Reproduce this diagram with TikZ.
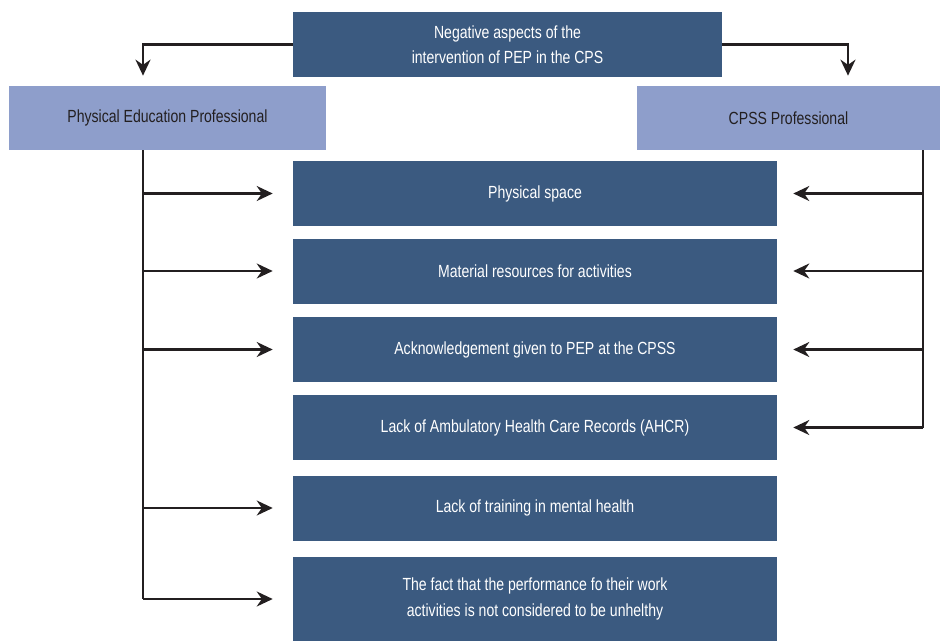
\documentclass[tikz,border=0pt]{standalone}
\usepackage{fontspec}
\setmainfont{Liberation Sans}[FakeStretch=0.8]
\usepackage{xcolor}
\usepackage{tikz}
\usetikzlibrary{arrows.meta}
\definecolor{darkblue}{HTML}{3B5A80}
\definecolor{lightblue}{HTML}{8E9ECB}
\definecolor{linegray}{HTML}{231F20}
\tikzset{>={Stealth[length=0.32cm,width=0.3cm]}}
\tikzset{
    darkbox/.style={fill=darkblue, text=white, align=center, inner sep=0pt,
        font=\fontsize{10}{14.5}\selectfont},
    lightbox/.style={fill=lightblue, text=linegray, align=center, inner sep=0pt,
        font=\fontsize{10}{14.5}\selectfont},
    conn/.style={->, draw=linegray, line width=1.25pt}
}

\begin{document}
\begin{tikzpicture}[x=0.02cm, y=-0.02cm]
    \useasboundingbox (0,0) rectangle (941,640);

    % Draw the heading and the two professionals
    \node[darkbox, minimum width=8.58cm, minimum height=1.3cm] (head) at (507.5,44.5)
        {Negative aspects of the\\intervention of PEP in the CPS};
    \node[lightbox, minimum width=6.34cm, minimum height=1.28cm] (pep) at (167.5,118)
        {Physical Education Professional};
    \node[lightbox, minimum width=6.06cm, minimum height=1.28cm] (cpss) at (788.5,118)
        {CPSS Professional};

    % Draw the aspects
    \node[darkbox, minimum width=9.68cm, minimum height=1.3cm] (space) at (535,193.5)
        {Physical space};
    \node[darkbox, minimum width=9.68cm, minimum height=1.3cm] (material) at (535,271)
        {Material resources for activities};
    \node[darkbox, minimum width=9.68cm, minimum height=1.3cm] (acknow) at (535,349.5)
        {Acknowledgement given to PEP at the CPSS};
    \node[darkbox, minimum width=9.68cm, minimum height=1.3cm] (ahcr) at (535,427.5)
        {Lack of Ambulatory Health Care Records (AHCR)};
    \node[darkbox, minimum width=9.68cm, minimum height=1.3cm] (training) at (535,508)
        {Lack of training in mental health};
    \node[darkbox, minimum width=9.68cm, minimum height=1.68cm] (unhealthy) at (535,599)
        {The fact that the performance fo their work\\activities is not considered to be unhelthy};

    % Coordinates for the vertical lines
    \coordinate (pepbus) at (143,150);
    \coordinate (cpssbus) at (923,150);
    \coordinate (cpssdrop) at (848,44);

    % Arrows from the heading
    \draw[conn, shorten >=0.2cm] (head.west) -| (pep.north -| pepbus);
    \draw[conn, shorten >=0.2cm] (head.east) -| (cpss.north -| cpssdrop);

    % Arrows from the physical education professional
    \draw[line width=1.25pt, draw=linegray] (pepbus) -- (pepbus |- unhealthy);
    \foreach \n in {space,material,acknow,training,unhealthy}
        \draw[conn, shorten >=0.4cm] (pepbus |- \n) -- (\n);

    % Arrows from the CPSS professional
    \draw[line width=1.25pt, draw=linegray] (cpssbus) -- (cpssbus |- ahcr);
    \foreach \n in {space,material,acknow,ahcr}
        \draw[conn, shorten >=0.32cm] (cpssbus |- \n) -- (\n);
\end{tikzpicture}
\end{document}
